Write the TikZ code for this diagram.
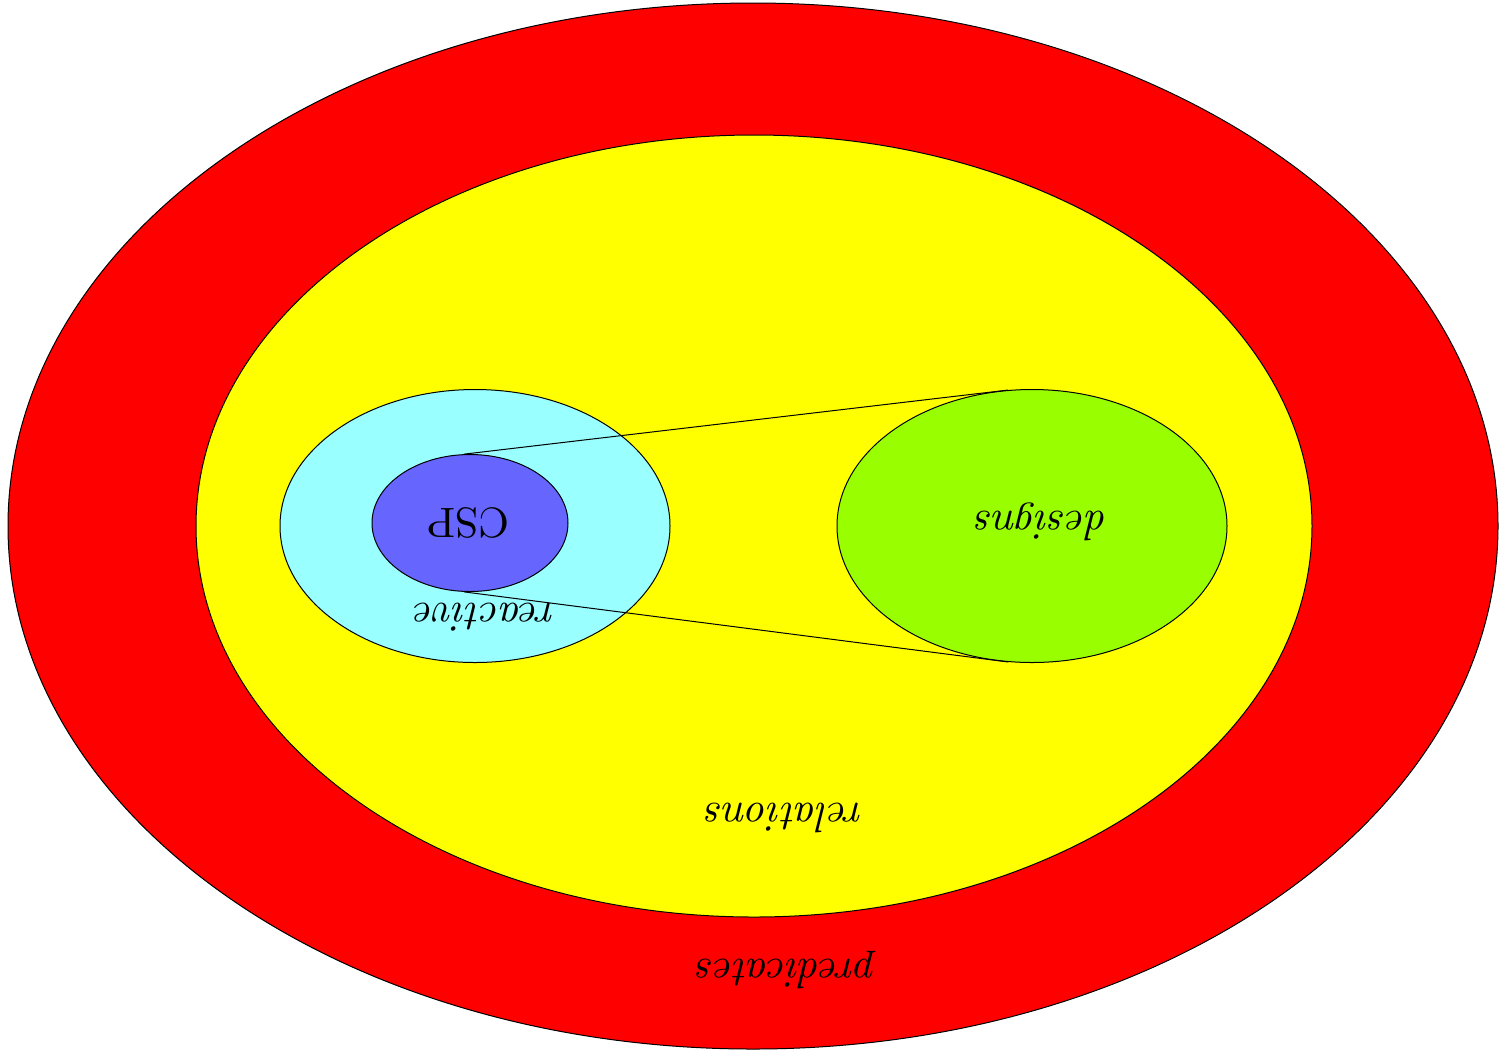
\documentclass[tikz,border=0pt]{standalone}
\usepackage{fontspec}
\usetikzlibrary{shapes.geometric}
\definecolor{predred}{HTML}{FF0000}
\definecolor{relyellow}{HTML}{FFFF00}
\definecolor{reacyan}{HTML}{99FFFF}
\definecolor{cspblue}{HTML}{6666FF}
\definecolor{desgreen}{HTML}{99FF00}
\tikzset{
  blob/.style={ellipse, draw=black, line width=0.25pt, inner sep=0pt},
  lbl/.style={rotate=180, font=\itshape\fontsize{10.6}{12}\selectfont, inner sep=0pt},
}
\begin{document}
\begin{tikzpicture}[x=0.25pt, y=-0.25pt]
\useasboundingbox (0,0) rectangle (1500,1053);
% nested sets
\node[blob, fill=predred, minimum width=1490*0.25pt, minimum height=1046*0.25pt] (pred) at (753,526) {};
\node[blob, fill=relyellow, minimum width=1116*0.25pt, minimum height=782*0.25pt] (rel) at (754,526) {};
\node[blob, fill=reacyan, minimum width=390*0.25pt, minimum height=273*0.25pt] (rea) at (475,526) {};
\node[blob, fill=cspblue, minimum width=196*0.25pt, minimum height=137*0.25pt] (csp) at (470,523) {};
\node[blob, fill=desgreen, minimum width=390*0.25pt, minimum height=273*0.25pt] (des) at (1032,526) {};
% zoom lines from CSP to designs
\draw[line width=0.25pt] (csp.95) -- (des.100);
\draw[line width=0.25pt] (csp.265) -- (des.260);
% labels
\node[lbl] (tpred) at (787,970) {predicates};
\node[lbl] (trel) at (785,818) {relations};
\node[lbl] (trea) at (485,617) {reactive};
\node[lbl, font=\fontsize{10.6}{12}\selectfont\upshape] (tcsp) at (468,523) {CSP};
\node[lbl] (tdes) at (1042,522) {designs};
\end{tikzpicture}
\end{document}
